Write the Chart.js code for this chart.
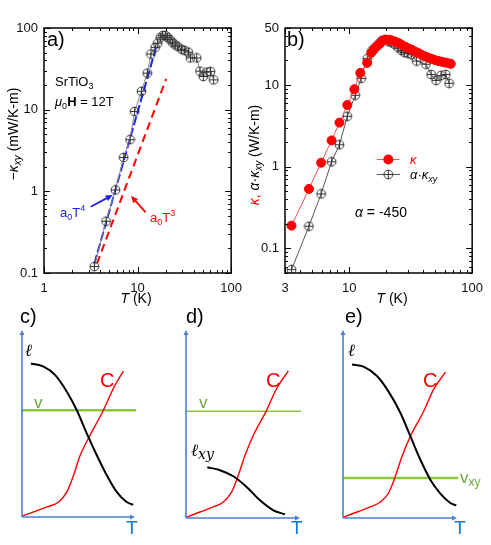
<!DOCTYPE html>
<html>
<head>
<meta charset="utf-8">
<script src="https://cdn.jsdelivr.net/npm/chart.js@4.4.1/dist/chart.umd.min.js"></script>
<style>
  body { margin: 0; background: #fff; }
  #wrap { position: relative; width: 491px; height: 545px; overflow: hidden; }
  canvas { position: absolute; }
</style>
</head>
<body>
<div id="wrap">
  <canvas id="pa" width="250" height="310" style="left:0;top:0"></canvas>
  <canvas id="pb" width="246" height="310" style="left:245px;top:0"></canvas>
  <canvas id="pc" width="163" height="245" style="left:0;top:300px"></canvas>
  <canvas id="pd" width="163" height="245" style="left:163px;top:300px"></canvas>
  <canvas id="pe" width="165" height="245" style="left:326px;top:300px"></canvas>
</div>
<script>
// ---- panel a: -kappa_xy of SrTiO3 at 12 T (mW/K-m)
const aT   = [3.45, 4.6, 5.8, 7.1, 8.3, 9.3, 11, 12.7, 13.9, 15.4, 16.4, 17.5, 18.6, 19.8, 20.9, 22.3, 23.7, 25.3, 27.1, 29.5, 32, 34.8, 36.8, 42.8, 46.5, 50.4, 55, 60, 65];
const aKxy = [0.12, 0.43, 1.04, 2.6, 4.3, 9.5, 16.8, 28, 48, 58, 65, 76, 81, 81, 77, 72, 66, 62, 59, 55, 53, 50.6, 43, 43, 29.6, 25.5, 28.9, 29.3, 23.2];
// fitted power laws, end points
const fitT4T = [3.45, 16.1];
const fitT4Y = [0.13, 63];
const fitT3T = [3.68, 20.2];
const fitT3Y = [0.13, 23.8];
const aXTicks = [1, 10, 100];
const aYTicks = [0.1, 1, 10, 100];

// ---- panel b: kappa and alpha*kappa_xy (W/K-m)
const bT     = [3.39, 4.7, 5.9, 7.18, 8.32, 9.64, 11, 12.3, 14, 15.1, 15.85, 16.8, 17.7, 18.7, 19.9, 21.2, 22.5, 23.9, 25.4, 27, 28.7, 30.6, 32.5, 34.6, 36.8, 39, 41.6, 44.2, 47, 50, 53.2, 56.6, 60.3, 64, 67];
const bKappa = [0.19, 0.535, 1.12, 2.1, 3.47, 5.7, 8.9, 14.1, 18.7, 24.8, 27.3, 29.9, 32, 35, 36, 36, 35, 33.8, 32.6, 30.8, 29.4, 28, 27, 25.5, 24.5, 23.4, 22.4, 21.6, 20.9, 20.2, 19.7, 19.3, 18.9, 18.5, 18.2];
const bTxy   = [3.39, 4.7, 5.9, 7.18, 8.32, 9.64, 11.2, 12.5, 14, 15.3, 16.2, 17.3, 18.4, 19.5, 20.8, 22.1, 23.5, 25, 26.6, 28.2, 30, 32, 35.3, 42.1, 46.4, 50.9, 55.8, 61, 65];
const bAKxy  = [0.055, 0.187, 0.465, 1.15, 1.86, 4.15, 7.5, 12.1, 21.1, 26.5, 29, 32, 35, 36, 34, 33, 31.3, 28.5, 26.5, 25, 24.5, 23.6, 19.7, 18, 13.5, 11.4, 13.1, 13.5, 10.5];
const bXTicks = [3, 10, 100];
const bYTicks = [0.1, 1, 10, 50];

// ---- sketches c, d, e (arbitrary units 0..100)
const cEllX = [7.9, 19.1, 29.4, 39.7, 48.5, 57.4, 66.2, 75, 83.8, 92.6, 98.5];
const cEllY = [82.1, 80.4, 75.9, 67, 57.1, 44.6, 33, 22.3, 13.4, 8, 6.6];
const cCX = [0, 10.3, 22, 32.4, 39.7, 45.6, 51.5, 60.3, 72, 80.9, 89.7];
const cCY = [0.5, 2.7, 5.4, 8, 13.4, 22.3, 33, 43.8, 57.1, 68.8, 78];
const cVX = [0, 101];
const cVY = [57.1, 57.1];

const dCX = [0.6, 12.3, 24, 32.7, 40.1, 45.9, 51.8, 59.1, 70.8, 79.5, 89.8];
const dCY = [0.5, 3.2, 5.9, 8.5, 13.9, 22.7, 33.4, 44, 57.4, 68.9, 78.2];
const dEllX = [18.7, 29.8, 41.5, 53.2, 64.9, 76.6, 86.8];
const dEllY = [27, 25.4, 22.2, 16.5, 9.4, 4.1, 2];
const dVX = [0, 101];
const dVY = [56.8, 56.8];

const eEllX = [7.9, 18, 29.8, 40.1, 50.3, 59.1, 67.8, 76.6, 85.4, 94.2, 99.4];
const eEllY = [81.7, 80.5, 75.5, 67.1, 56, 43.5, 31.1, 20.4, 13, 8, 6.7];
const eCX = [0.6, 12.3, 24, 32.7, 40, 45.9, 51.8, 59.1, 70.8, 79.5, 89.8];
const eCY = [0.5, 3.2, 5.9, 8.5, 13.3, 22.2, 32.9, 43.5, 56.8, 68.4, 77.6];
const eVX = [0, 101];
const eVY = [21.3, 21.3];

const SANS = "'Liberation Sans', Arial, sans-serif";
const SERIF = "'DejaVu Serif', serif";
const RED = '#ff0000';
const AXBLUE = '#4a7fd0';
const TBLUE = '#1479cc';
const GREENLINE = '#8cc63f';
const GREENTXT = '#6aa83a';

function fnt(size, style) { return (style || '') + ' ' + size + 'px ' + SANS; }
function pts(xs, ys) { return xs.map((x, i) => ({ x: x, y: ys[i] })); }

function rich(ctx, parts, x, y, align)
{
	let w = 0;
	parts.forEach(p => { ctx.font = p.f; w += ctx.measureText(p.t).width; });
	let cx = align === 'center' ? x - w / 2 : x;
	parts.forEach(p => {
		ctx.font = p.f;
		ctx.fillStyle = p.c || '#000';
		ctx.fillText(p.t, cx, y + (p.dy || 0));
		cx += ctx.measureText(p.t).width;
	});
}

function arrow(ctx, x1, y1, x2, y2, color)
{
	const a = Math.atan2(y2 - y1, x2 - x1);
	ctx.strokeStyle = color;
	ctx.fillStyle = color;
	ctx.lineWidth = 1.8;
	ctx.beginPath();
	ctx.moveTo(x1, y1);
	ctx.lineTo(x2 - 5 * Math.cos(a), y2 - 5 * Math.sin(a));
	ctx.stroke();
	ctx.beginPath();
	ctx.moveTo(x2, y2);
	ctx.lineTo(x2 - 7 * Math.cos(a) + 3.2 * Math.sin(a), y2 - 7 * Math.sin(a) - 3.2 * Math.cos(a));
	ctx.lineTo(x2 - 7 * Math.cos(a) - 3.2 * Math.sin(a), y2 - 7 * Math.sin(a) + 3.2 * Math.cos(a));
	ctx.closePath();
	ctx.fill();
}

function crossCircle(r, color)
{
	const s = Math.ceil(2 * r + 2);
	const c = document.createElement('canvas');
	c.width = s; c.height = s;
	const g = c.getContext('2d');
	g.strokeStyle = color;
	g.lineWidth = 1;
	g.beginPath();
	g.arc(s / 2, s / 2, r, 0, 2 * Math.PI);
	g.stroke();
	g.beginPath();
	g.moveTo(s / 2 - r, s / 2); g.lineTo(s / 2 + r, s / 2);
	g.moveTo(s / 2, s / 2 - r); g.lineTo(s / 2, s / 2 + r);
	g.stroke();
	return c;
}
const crossPt = crossCircle(4.4, '#333');

function logValues(min, max)
{
	const out = [];
	for (let k = Math.floor(Math.log10(min)); k <= Math.ceil(Math.log10(max)); k++)
		for (let m = 1; m <= 9; m++)
		{
			const v = Number((m * Math.pow(10, k)).toPrecision(6));
			if (v >= min * 0.999 && v <= max * 1.001)
				out.push(v);
		}
	return out;
}

// frame with inward ticks on all four sides, then the panel's own texts
function framePlugin(draw)
{
	return {
		id: 'frame',
		afterDraw(chart)
		{
			const ctx = chart.ctx;
			const a = chart.chartArea;
			const xs = chart.scales.x, ys = chart.scales.y;
			ctx.save();
			ctx.strokeStyle = '#000';
			ctx.lineWidth = 1.5;
			ctx.strokeRect(a.left, a.top, a.right - a.left, a.bottom - a.top);
			ctx.lineWidth = 1;
			const majX = xs.ticks.map(t => t.value), majY = ys.ticks.map(t => t.value);
			const isMaj = (v, list) => list.includes(v) || Math.abs(Math.log10(v) - Math.round(Math.log10(v))) < 1e-6;
			ctx.beginPath();
			logValues(xs.min, xs.max).forEach(v => {
				const px = Math.round(xs.getPixelForValue(v)) + 0.5;
				const len = isMaj(v, majX) ? 6 : 3;
				ctx.moveTo(px, a.bottom); ctx.lineTo(px, a.bottom - len);
				ctx.moveTo(px, a.top); ctx.lineTo(px, a.top + len);
			});
			logValues(ys.min, ys.max).forEach(v => {
				const py = Math.round(ys.getPixelForValue(v)) + 0.5;
				const len = isMaj(v, majY) ? 6 : 3;
				ctx.moveTo(a.left, py); ctx.lineTo(a.left + len, py);
				ctx.moveTo(a.right, py); ctx.lineTo(a.right - len, py);
			});
			ctx.stroke();
			ctx.restore();
			ctx.save();
			draw(ctx, chart);
			ctx.restore();
		}
	};
}

function logPanel(id, o)
{
	const tickFont = { family: SANS, size: 13 };
	return new Chart(document.getElementById(id), {
		type: 'line',
		data: { datasets: o.datasets },
		options: {
			responsive: false,
			animation: false,
			layout: { padding: { left: 0, right: o.padRight, top: 28, bottom: 0 } },
			plugins: { legend: { display: false }, tooltip: { enabled: false } },
			scales: {
				x: {
					type: 'logarithmic', min: o.xMin, max: o.xMax,
					grid: { display: false, drawTicks: false }, border: { display: false },
					afterBuildTicks: s => { s.ticks = o.xTicks.map(v => ({ value: v })); },
					afterFit: s => { s.height = 37; },
					ticks: { autoSkip: false, maxRotation: 0, padding: 8, color: '#111', font: tickFont, callback: v => String(v) }
				},
				y: {
					type: 'logarithmic', min: o.yMin, max: o.yMax,
					grid: { display: false, drawTicks: false }, border: { display: false },
					afterBuildTicks: s => { s.ticks = o.yTicks.map(v => ({ value: v })); },
					afterFit: s => { s.width = o.yWidth; },
					ticks: { autoSkip: false, padding: 6, color: '#111', font: tickFont, callback: v => String(v) }
				}
			}
		},
		plugins: [framePlugin(o.draw)]
	});
}

logPanel('pa', {
	xMin: 1, xMax: 100, yMin: 0.1, yMax: 100, xTicks: aXTicks, yTicks: aYTicks, yWidth: 44, padRight: 14,
	datasets: [
		{ data: pts(aT, aKxy), borderColor: '#888', borderWidth: 1, pointStyle: crossPt, pointRadius: 4.5, order: 1 },
		{ data: pts(fitT4T, fitT4Y), borderColor: '#1a22f0', borderWidth: 2, borderDash: [9, 3], pointRadius: 0, order: 2 },
		{ data: pts(fitT3T, fitT3Y), borderColor: RED, borderWidth: 2, borderDash: [8, 5], pointRadius: 0, order: 3 }
	],
	draw: (ctx) => {
		ctx.textBaseline = 'alphabetic';
		rich(ctx, [{ t: 'a)', f: fnt(20) }], 47, 46);
		rich(ctx, [{ t: 'SrTiO', f: fnt(13) }, { t: '3', f: fnt(9), dy: 3 }], 55, 86);
		rich(ctx, [{ t: 'μ', f: fnt(13, 'italic') }, { t: '0', f: fnt(9), dy: 3 }, { t: 'H', f: fnt(13, 'bold') }, { t: ' = 12T', f: fnt(13) }], 55, 106);
		rich(ctx, [{ t: 'a', f: fnt(13), c: '#1a22f0' }, { t: '0', f: fnt(9), dy: 3, c: '#1a22f0' }, { t: 'T', f: fnt(13), c: '#1a22f0' }, { t: '4', f: fnt(9), dy: -6, c: '#1a22f0' }], 60, 217);
		rich(ctx, [{ t: 'a', f: fnt(13), c: RED }, { t: '0', f: fnt(9), dy: 3, c: RED }, { t: 'T', f: fnt(13), c: RED }, { t: '3', f: fnt(9), dy: -6, c: RED }], 150, 222);
		arrow(ctx, 90.7, 206.7, 112.7, 195, '#1a22f0');
		arrow(ctx, 145.7, 212.3, 131, 196, RED);
		rich(ctx, [{ t: 'T', f: fnt(14, 'italic') }, { t: ' (K)', f: fnt(14) }], 136, 303, 'center');
		ctx.translate(14, 134);
		ctx.rotate(-Math.PI / 2);
		ctx.textBaseline = 'middle';
		rich(ctx, [{ t: '−', f: fnt(14) }, { t: 'κ', f: fnt(14, 'italic') }, { t: 'xy', f: fnt(10, 'italic'), dy: 4 }, { t: ' (mW/K-m)', f: fnt(14) }], 0, 0, 'center');
	}
});

logPanel('pb', {
	xMin: 3, xMax: 100, yMin: 0.05, yMax: 50, xTicks: bXTicks, yTicks: bYTicks, yWidth: 40, padRight: 15,
	datasets: [
		{ data: pts(bT, bKappa), borderColor: '#ff5050', backgroundColor: RED, borderWidth: 1, pointBorderColor: RED, pointRadius: 4.5, order: 1 },
		{ data: pts(bTxy, bAKxy), borderColor: '#555', borderWidth: 1, pointStyle: crossPt, pointRadius: 4.5, order: 2 }
	],
	draw: (ctx) => {
		ctx.textBaseline = 'alphabetic';
		rich(ctx, [{ t: 'b)', f: fnt(20) }], 42, 46);
		// legend
		ctx.strokeStyle = '#ff5050'; ctx.lineWidth = 1;
		ctx.beginPath(); ctx.moveTo(131.7, 159.5); ctx.lineTo(154.5, 159.5); ctx.stroke();
		ctx.fillStyle = RED; ctx.beginPath(); ctx.arc(143.3, 159.5, 5, 0, 2 * Math.PI); ctx.fill();
		ctx.strokeStyle = '#555';
		ctx.beginPath(); ctx.moveTo(131.7, 174.5); ctx.lineTo(155, 174.5); ctx.stroke();
		ctx.drawImage(crossPt, 143.3 - crossPt.width / 2, 174.5 - crossPt.height / 2);
		rich(ctx, [{ t: 'κ', f: fnt(13, 'italic'), c: RED }], 165, 164);
		rich(ctx, [{ t: 'α', f: fnt(13, 'italic') }, { t: '·', f: fnt(13) }, { t: 'κ', f: fnt(13, 'italic') }, { t: 'xy', f: fnt(9, 'italic'), dy: 3 }], 165, 179);
		rich(ctx, [{ t: 'α', f: fnt(14, 'italic') }, { t: ' = -450', f: fnt(14) }], 110, 217);
		rich(ctx, [{ t: 'T', f: fnt(14, 'italic') }, { t: ' (K)', f: fnt(14) }], 147, 303, 'center');
		ctx.translate(10, 155);
		ctx.rotate(-Math.PI / 2);
		ctx.textBaseline = 'middle';
		rich(ctx, [
			{ t: 'κ', f: fnt(14, 'italic'), c: RED }, { t: ', ', f: fnt(14), c: RED },
			{ t: 'α', f: fnt(14, 'italic') }, { t: '·', f: fnt(14) }, { t: 'κ', f: fnt(14, 'italic') },
			{ t: 'xy', f: fnt(10, 'italic'), dy: 4 }, { t: ' (W/K-m)', f: fnt(14) }
		], 0, 0, 'center');
	}
});

// ---- schematic panels
function sketchPlugin(draw)
{
	return {
		id: 'sketch',
		afterDraw(chart)
		{
			const ctx = chart.ctx, a = chart.chartArea;
			ctx.save();
			ctx.strokeStyle = AXBLUE; ctx.fillStyle = AXBLUE; ctx.lineWidth = 1.6;
			ctx.beginPath();
			ctx.moveTo(a.left, a.bottom); ctx.lineTo(a.left, a.top + 3);
			ctx.moveTo(a.left, a.bottom); ctx.lineTo(a.right - 3, a.bottom);
			ctx.stroke();
			ctx.beginPath();
			ctx.moveTo(a.left, a.top); ctx.lineTo(a.left - 2.5, a.top + 5); ctx.lineTo(a.left + 2.5, a.top + 5); ctx.closePath();
			ctx.moveTo(a.right, a.bottom); ctx.lineTo(a.right - 5, a.bottom - 2.5); ctx.lineTo(a.right - 5, a.bottom + 2.5); ctx.closePath();
			ctx.fill();
			ctx.textBaseline = 'middle';
			ctx.textAlign = 'left';
			draw(ctx, a);
			ctx.restore();
		}
	};
}

function sketchPanel(id, pad, datasets, draw)
{
	return new Chart(document.getElementById(id), {
		type: 'line',
		data: { datasets: datasets },
		options: {
			responsive: false,
			animation: false,
			layout: { padding: pad },
			plugins: { legend: { display: false }, tooltip: { enabled: false } },
			scales: {
				x: { type: 'linear', min: 0, max: 100, display: false },
				y: { type: 'linear', min: 0, max: 100, display: false }
			}
		},
		plugins: [sketchPlugin(draw)]
	});
}

const curve = (xs, ys, color, w) => ({ data: pts(xs, ys), borderColor: color, borderWidth: w, pointRadius: 0, cubicInterpolationMode: 'monotone', clip: false });

sketchPanel('pc', { left: 22, right: 28, top: 30, bottom: 28 }, [
	curve(cEllX, cEllY, '#000', 2),
	curve(cCX, cCY, RED, 1.4),
	curve(cVX, cVY, GREENLINE, 2.5)
], (ctx) => {
	rich(ctx, [{ t: 'c)', f: fnt(20) }], 20, 17);
	rich(ctx, [{ t: 'ℓ', f: 'italic 17px ' + SERIF }], 25, 52);
	rich(ctx, [{ t: 'C', f: fnt(20), c: RED }], 100, 81);
	rich(ctx, [{ t: 'v', f: fnt(17), c: GREENTXT }], 34, 103);
	rich(ctx, [{ t: 'T', f: fnt(19), c: TBLUE }], 126, 229);
});

sketchPanel('pd', { left: 23, right: 26, top: 30, bottom: 27 }, [
	curve(dEllX, dEllY, '#000', 2),
	curve(dCX, dCY, RED, 1.4),
	curve(dVX, dVY, GREENLINE, 1.6)
], (ctx) => {
	rich(ctx, [{ t: 'd)', f: fnt(20) }], 23, 17);
	rich(ctx, [{ t: 'ℓ', f: 'italic 17px ' + SERIF }, { t: 'xy', f: 'italic 14px ' + SERIF, dy: 3 }], 28, 152);
	rich(ctx, [{ t: 'C', f: fnt(20), c: RED }], 103, 81);
	rich(ctx, [{ t: 'v', f: fnt(17), c: GREENTXT }], 36, 103);
	rich(ctx, [{ t: 'T', f: fnt(19), c: TBLUE }], 128, 229);
});

sketchPanel('pe', { left: 17, right: 34, top: 30, bottom: 27 }, [
	curve(eEllX, eEllY, '#000', 2),
	curve(eCX, eCY, RED, 1.4),
	curve(eVX, eVY, GREENLINE, 2.5)
], (ctx) => {
	rich(ctx, [{ t: 'e)', f: fnt(20) }], 19, 17);
	rich(ctx, [{ t: 'ℓ', f: 'italic 17px ' + SERIF }], 22, 52);
	rich(ctx, [{ t: 'C', f: fnt(20), c: RED }], 97, 81);
	rich(ctx, [{ t: 'v', f: fnt(17), c: GREENTXT }, { t: 'xy', f: fnt(12), c: GREENTXT, dy: 5 }], 134, 178);
	rich(ctx, [{ t: 'T', f: fnt(19), c: TBLUE }], 128, 229);
});
</script>
</body>
</html>
